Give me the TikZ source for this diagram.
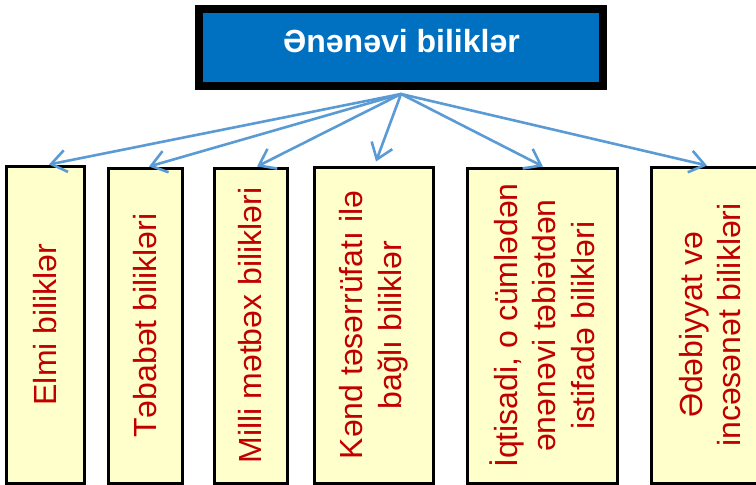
\documentclass[tikz,border=0pt]{standalone}
\usepackage{fontspec}
\setmainfont{Liberation Sans}
\usetikzlibrary{arrows.meta}
\definecolor{titleblue}{HTML}{0070C0}
\definecolor{arrowblue}{HTML}{5B9BD5}
\definecolor{boxyellow}{HTML}{FFFFCC}
\definecolor{txtred}{HTML}{C00000}
\begin{document}
\begin{tikzpicture}[x=1pt,y=-1pt,
  catbox/.style={draw=black, line width=3pt, fill=boxyellow, inner sep=0pt},
  cattext/.style={rotate=90, text=txtred, align=center, inner sep=0pt,
    font=\fontsize{32}{38.5}\selectfont},
  arr/.style={draw=arrowblue, line width=2.6pt, line cap=round,
    -{Straight Barb[length=15pt,width=22pt,line width=2.6pt]}},
]
\useasboundingbox (0,0) rectangle (756,485);
\clip (0,0) rectangle (756,485);
\fill[white] (0,0) rectangle (756,485);
% title
\node[draw=black, line width=8pt, fill=titleblue, minimum width=404pt,
  minimum height=77pt, inner sep=0pt] (top) at (401,47.5) {};
\node[font=\bfseries\fontsize{32}{38}\selectfont, text=white, inner sep=0pt]
  (title) at (401.5,41.5) {Ənənəvi biliklər};
\coordinate (apex) at ([yshift=-4pt]top.south);
% boxes
\node[catbox, minimum width=78pt, minimum height=317pt] (b1) at (45,324.5) {};
\node[catbox, minimum width=74pt, minimum height=315pt] (b2) at (145,325.5) {};
\node[catbox, minimum width=73pt, minimum height=315pt] (b3) at (250.5,325.5) {};
\node[catbox, minimum width=119pt, minimum height=316pt] (b4) at (373.5,325) {};
\node[catbox, minimum width=150pt, minimum height=315pt] (b5) at (542,325.5) {};
\node[catbox, minimum width=118pt, minimum height=316pt] (b6) at (710,325) {};
% texts
\node[cattext] (t1) at (b1.center) {Elmi biliklər};
\node[cattext] (t2) at (b2.center) {Təbabət bilikləri};
\node[cattext] (t3) at (b3.center) {Milli mətbəx bilikləri};
\node[cattext] (t4) at (b4.center) {Kənd təsərrüfatı ilə\\bağlı biliklər};
\node[cattext] (t5) at (b5.center) {İqtisadi, o cümlədən\\ənənəvi təbiətdən\\istifadə bilikləri};
\node[cattext] (t6) at (b6.center) {Ədəbiyyat və\\incəsənət bilikləri};
% arrows
\draw[arr] (apex) -- ([xshift=4pt]b1.north);
\draw[arr] (apex) -- ([xshift=4pt]b2.north);
\draw[arr] (apex) -- ([xshift=6.5pt]b3.north);
\draw[arr] (apex) -- ([xshift=2.5pt,yshift=4pt]b4.north);
\draw[arr] (apex) -- ([xshift=1pt]b5.north);
\draw[arr] (apex) -- ([xshift=-3pt]b6.north);
\end{tikzpicture}
\end{document}
